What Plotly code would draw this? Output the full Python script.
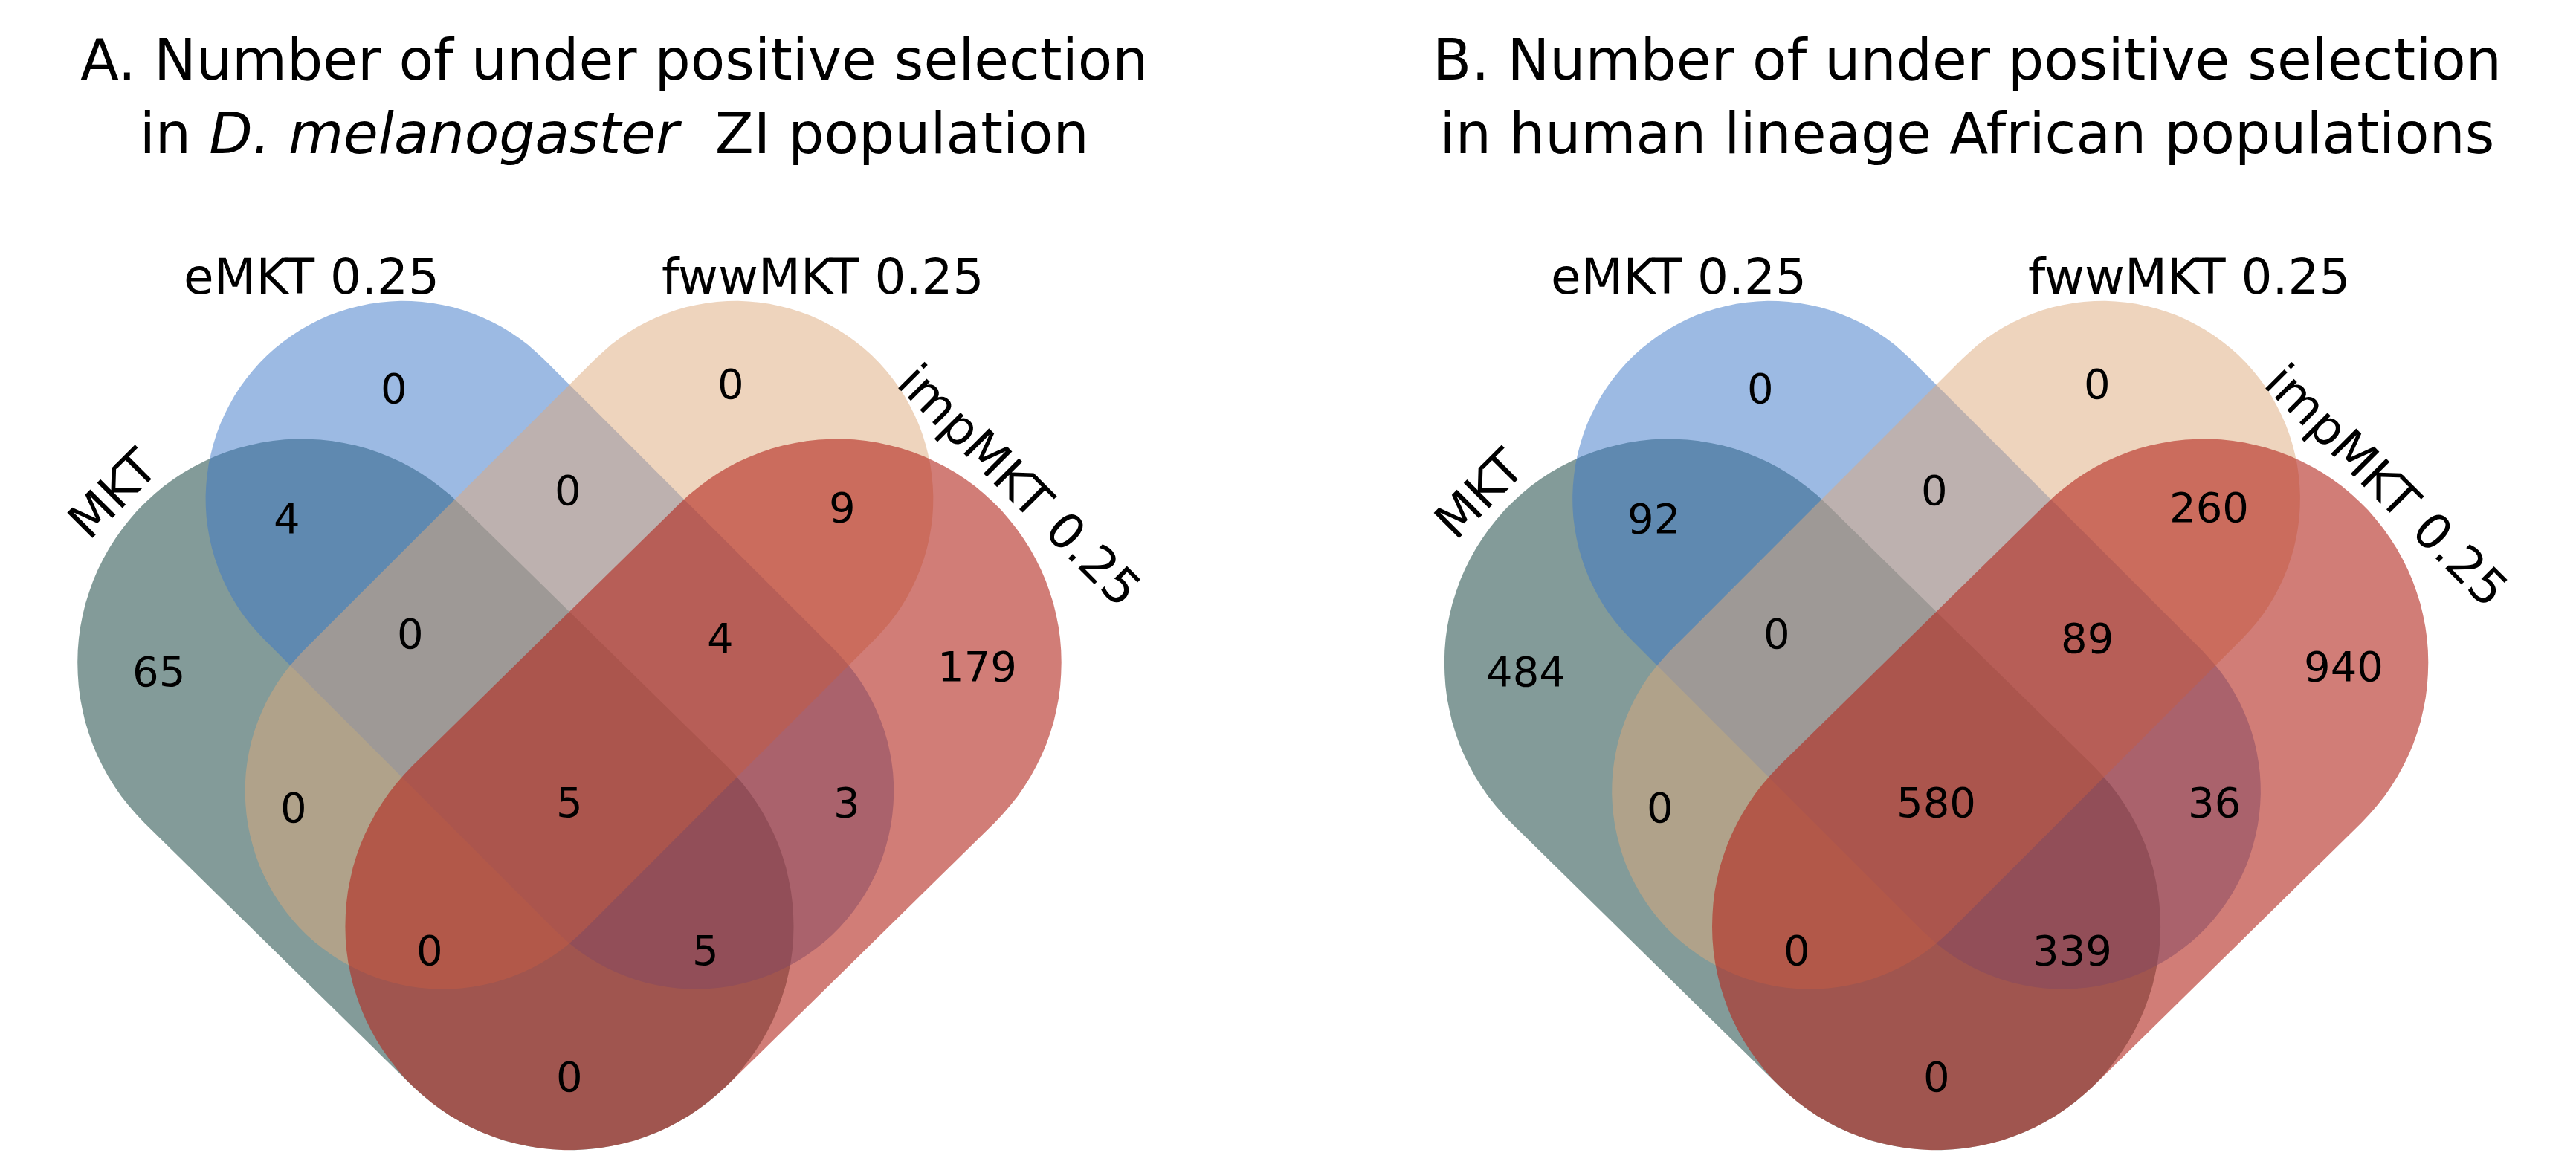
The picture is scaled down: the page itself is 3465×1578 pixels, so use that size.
import numpy as np
import plotly.graph_objects as go

# region labels in a fixed order (see REGION_POS)
regions = ["e", "f", "M&e", "e&f", "f&i", "M", "M&e&f", "e&f&i", "i",
           "M&f", "all", "e&i", "M&f&i", "M&e&i", "M&i"]
counts_a = [0, 0, 4, 0, 9, 65, 0, 4, 179, 0, 5, 3, 0, 5, 0]
counts_b = [0, 0, 92, 0, 260, 484, 0, 89, 940, 0, 580, 36, 0, 339, 0]
set_names = ["MKT", "eMKT 0.25", "fwwMKT 0.25", "impMKT 0.25"]
titles = ["A. Number of under positive selection<br>in <i>D. melanogaster</i>  ZI population",
          "B. Number of under positive selection<br>in human lineage African populations"]

W, H = 1568, 714
REGION_POS = [(236, 233), (441, 230), (171, 312), (342, 295), (509, 305),
              (93, 405), (246, 382), (435, 385), (591, 402), (175, 488),
              (343, 485), (512, 485), (258, 575), (426, 575), (343, 652)]
# stadium shapes: (c1, c2, r, color, opacity)
SHAPES = [((180, 400), (343, 560), 136, "rgb(30,75,70)", 0.55),
          ((242, 300), (420, 478), 120, "rgb(60,120,200)", 0.5),
          ((444, 300), (266, 478), 120, "rgb(222,170,125)", 0.5),
          ((506, 400), (343, 560), 136, "rgb(180,40,30)", 0.6)]
LABEL_POS = [(65, 297, -45), (186, 165, 0), (497, 165, 0), (617, 292, 45)]
OFFSETS = [0, 832]


def stadium_path(c1, c2, r, dx):
    c1 = np.array(c1, float) + [dx, 0]
    c2 = np.array(c2, float) + [dx, 0]
    d = (c2 - c1) / np.linalg.norm(c2 - c1)
    base = np.arctan2(d[1], d[0])
    t1 = np.linspace(base + np.pi / 2, base + 3 * np.pi / 2, 60)
    t2 = np.linspace(base - np.pi / 2, base + np.pi / 2, 60)
    pts = [c1 + r * np.array([np.cos(t), np.sin(t)]) for t in t1]
    pts += [c2 + r * np.array([np.cos(t), np.sin(t)]) for t in t2]
    return "M " + " L ".join(f"{p[0]:.1f},{p[1]:.1f}" for p in pts) + " Z"


fig = go.Figure()
shapes, annotations = [], []
for dx, counts, title in zip(OFFSETS, [counts_a, counts_b], titles):
    for c1, c2, r, col, op in SHAPES:
        shapes.append(dict(type="path", path=stadium_path(c1, c2, r, dx),
                           xref="x", yref="y", fillcolor=col, opacity=op,
                           line=dict(color=col, width=2)))
    for (x, y), v in zip(REGION_POS, counts):
        annotations.append(dict(x=x + dx, y=y, text=str(v), showarrow=False,
                                font=dict(size=56, color="black")))
    for (x, y, ang), name in zip(LABEL_POS, set_names):
        annotations.append(dict(x=x + dx, y=y, text=name, showarrow=False,
                                textangle=ang, font=dict(size=66, color="black")))
    annotations.append(dict(x=370 + dx * 0.99, y=55, text=title, showarrow=False,
                            font=dict(size=76, color="black")))

fig.add_trace(go.Scatter(x=[0, W], y=[0, H], mode="markers",
                         marker=dict(opacity=0), hoverinfo="skip", showlegend=False))
fig.update_layout(
    width=3465, height=1578, margin=dict(l=0, r=0, t=0, b=0),
    plot_bgcolor="white", paper_bgcolor="white",
    font=dict(family="DejaVu Sans"),
    xaxis=dict(range=[0, W], visible=False, fixedrange=True),
    yaxis=dict(range=[H, 0], visible=False, fixedrange=True),
    shapes=shapes, annotations=annotations,
)
fig.write_html("out.html")
